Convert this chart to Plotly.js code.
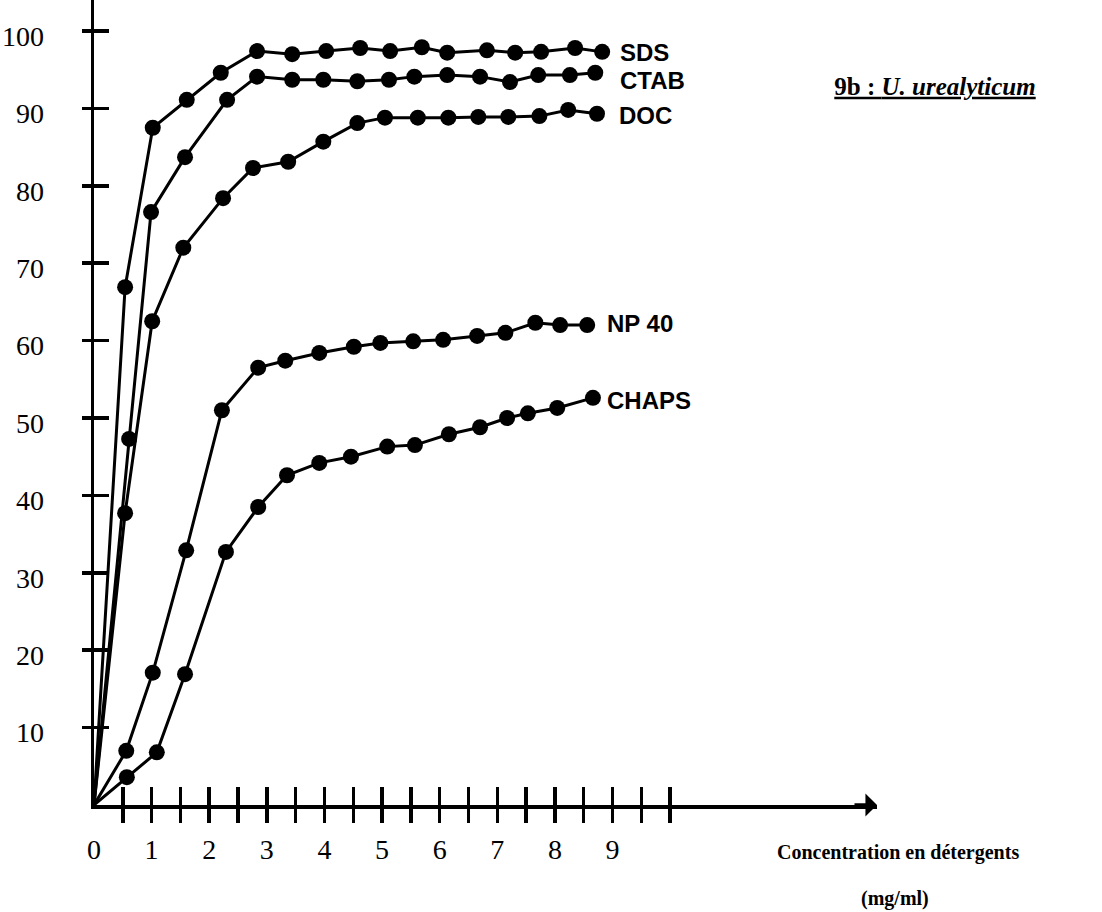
<!DOCTYPE html>
<html>
<head>
<meta charset="utf-8">
<script src="https://cdn.plot.ly/plotly-3.0.1.min.js"></script>
<style>html,body{margin:0;padding:0;background:#fff;}#chart{width:1102px;height:912px;}</style>
</head>
<body>
<div id="chart"></div>
<script>
// Concentration en détergents (mg/ml) vs %
const xSDS   = [0, 0.54, 1.02, 1.61, 2.20, 2.83, 3.44, 4.03, 4.62, 5.14, 5.69, 6.13, 6.82, 7.31, 7.76, 8.35, 8.82];
const ySDS   = [0, 66.9, 87.5, 91.1, 94.6, 97.4, 97.0, 97.4, 97.8, 97.4, 97.9, 97.2, 97.5, 97.2, 97.3, 97.8, 97.3];
const xCTAB  = [0, 0.61, 0.99, 1.58, 2.31, 2.83, 3.44, 3.98, 4.57, 5.12, 5.56, 6.13, 6.70, 7.22, 7.71, 8.26, 8.70];
const yCTAB  = [0, 47.3, 76.6, 83.7, 91.1, 94.1, 93.7, 93.7, 93.5, 93.7, 94.1, 94.3, 94.1, 93.4, 94.3, 94.3, 94.6];
const xDOC   = [0, 0.54, 1.01, 1.55, 2.24, 2.76, 3.37, 3.98, 4.57, 5.05, 5.62, 6.15, 6.67, 7.19, 7.73, 8.23, 8.73];
const yDOC   = [0, 37.7, 62.5, 72.0, 78.4, 82.3, 83.1, 85.7, 88.1, 88.8, 88.8, 88.8, 88.9, 88.9, 89.0, 89.8, 89.3];
const xNP40  = [0, 0.56, 1.02, 1.60, 2.22, 2.85, 3.32, 3.91, 4.51, 4.97, 5.54, 6.06, 6.65, 7.14, 7.66, 8.09, 8.56];
const yNP40  = [0, 7.0, 17.1, 32.9, 51.0, 56.5, 57.4, 58.4, 59.2, 59.7, 59.9, 60.1, 60.6, 61.0, 62.3, 62.0, 62.0];
const xCHAPS = [0, 0.57, 1.09, 1.58, 2.29, 2.85, 3.35, 3.91, 4.46, 5.09, 5.57, 6.16, 6.70, 7.17, 7.53, 8.04, 8.66];
const yCHAPS = [0, 3.6, 6.8, 16.9, 32.7, 38.5, 42.6, 44.2, 45.0, 46.3, 46.5, 47.9, 48.8, 50.0, 50.6, 51.3, 52.6];

const seriesNames = ['SDS', 'CTAB', 'DOC', 'NP 40', 'CHAPS'];
const xTickVals = [0, 1, 2, 3, 4, 5, 6, 7, 8, 9];
const xTickText = ['0', '1', '2', '3', '4', '5', '6', '7', '8', '9'];
const xMarkVals = [0.5, 1, 1.5, 2, 2.5, 3, 3.5, 4, 4.5, 5, 5.5, 6, 6.5, 7, 7.5, 8, 8.5, 9, 9.5, 10];
const yTickVals = [10, 20, 30, 40, 50, 60, 70, 80, 90, 100];
const titleText = '<b>9b : <i>U. urealyticum</i></b>';
const xTitle1 = '<b>Concentration en détergents</b>';
const xTitle2 = '<b>(mg/ml)</b>';

const XR = [0, 13.59];
const YR = [0, 104];

function trace(xs, ys, name, xa, ya) {
  return {
    x: xs, y: ys, name: name, type: 'scatter', mode: 'lines+markers',
    xaxis: xa, yaxis: ya,
    line: {color: '#000000', width: 3},
    marker: {color: '#000000', opacity: 1, line: {width: 0, color: '#000000'},
             size: xs.map((v, i) => i === 0 ? 0 : 16)},
    showlegend: false, hoverinfo: 'x+y+name'
  };
}

// every axis shares the same range, so traces on overlay axes sit at identical positions
const data = [
  trace(xSDS, ySDS, seriesNames[0], 'x', 'y'),
  trace(xCTAB, yCTAB, seriesNames[1], 'x', 'y'),
  trace(xDOC, yDOC, seriesNames[2], 'x', 'y2'),
  trace(xNP40, yNP40, seriesNames[3], 'x2', 'y'),
  trace(xCHAPS, yCHAPS, seriesNames[4], 'x3', 'y')
];

const serifFont = {family: 'Liberation Serif, Times New Roman, serif', size: 28, color: '#000'};
const labFont = {family: 'Liberation Sans, Arial, sans-serif', size: 24, color: '#000'};

function lab(text, px, py) {
  return {text: '<b>' + text + '</b>', xref: 'paper', yref: 'paper', x: px, y: py,
          xanchor: 'left', yanchor: 'middle', showarrow: false, font: labFont};
}

const layout = {
  width: 1102, height: 912,
  margin: {l: 94, r: 225, t: 0, b: 107},
  paper_bgcolor: '#fff', plot_bgcolor: '#fff',
  title: {text: '<u>' + titleText + '</u>', xref: 'container', yref: 'container',
          x: 935 / 1102, y: 1 - 86 / 912, xanchor: 'center', yanchor: 'middle',
          font: {family: 'Liberation Serif, Times New Roman, serif', size: 25, color: '#000'}},
  xaxis: {range: XR, showline: true, linewidth: 3.5, linecolor: '#000', showgrid: false, zeroline: false,
          tickmode: 'array', tickvals: xTickVals, ticktext: xTickText, ticks: '', ticklen: 0,
          tickfont: serifFont, ticklabelstandoff: 17, fixedrange: true},
  xaxis2: {range: XR, overlaying: 'x', anchor: 'y', side: 'bottom', showline: false, showgrid: false, zeroline: false,
           tickmode: 'array', tickvals: xMarkVals, ticks: 'outside', ticklen: 17, tickwidth: 3.5, tickcolor: '#000',
           showticklabels: false, fixedrange: true},
  xaxis3: {range: XR, overlaying: 'x', anchor: 'y', side: 'bottom', showline: false, showgrid: false, zeroline: false,
           tickmode: 'array', tickvals: xMarkVals, ticks: 'inside', ticklen: 18, tickwidth: 3.5, tickcolor: '#000',
           showticklabels: false, fixedrange: true},
  yaxis: {range: YR, showline: true, linewidth: 3.5, linecolor: '#000', showgrid: false, zeroline: false,
          tickmode: 'array', tickvals: yTickVals, ticks: 'outside', ticklen: 9, tickwidth: 3.5, tickcolor: '#000',
          tickfont: serifFont, ticklabelstandoff: 32, ticklabelshift: 5, fixedrange: true},
  yaxis2: {range: YR, overlaying: 'y', anchor: 'x', side: 'left', showline: false, showgrid: false, zeroline: false,
           tickmode: 'array', tickvals: yTickVals, ticks: 'inside', ticklen: 15, tickwidth: 3.5, tickcolor: '#000',
           showticklabels: false, fixedrange: true},
  annotations: [
    lab(seriesNames[0], 0.669, (805 - 53) / 805),
    lab(seriesNames[1], 0.669, (805 - 81) / 805),
    lab(seriesNames[2], 0.668, (805 - 115) / 805),
    lab(seriesNames[3], 0.653, (805 - 323) / 805),
    lab(seriesNames[4], 0.653, (805 - 400) / 805),
    {text: '', xref: 'x', yref: 'y', x: XR[1], y: 0, ax: -24, ay: 0, axref: 'pixel', ayref: 'pixel',
     showarrow: true, arrowhead: 1, arrowsize: 1.1, arrowwidth: 3.5, arrowcolor: '#000'},
    {text: xTitle1, xref: 'paper', yref: 'paper', x: (898 - 94) / 783, y: -(852 - 805) / 805,
     xanchor: 'center', yanchor: 'middle', showarrow: false,
     font: {family: 'Liberation Serif, Times New Roman, serif', size: 20, color: '#000'}},
    {text: xTitle2, xref: 'paper', yref: 'paper', x: (895 - 94) / 783, y: -(898 - 805) / 805,
     xanchor: 'center', yanchor: 'middle', showarrow: false,
     font: {family: 'Liberation Serif, Times New Roman, serif', size: 20, color: '#000'}}
  ]
};

Plotly.newPlot('chart', data, layout, {displayModeBar: false, staticPlot: true});
</script>
</body>
</html>
